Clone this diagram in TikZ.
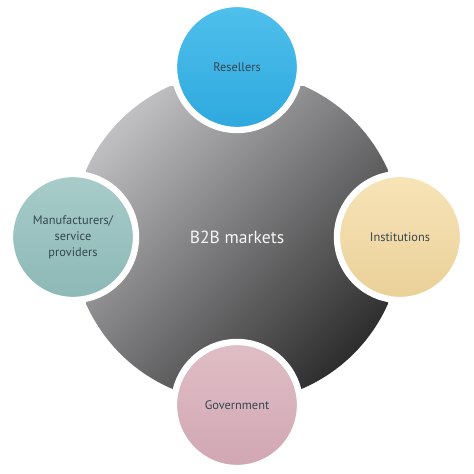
\documentclass[tikz,border=0pt]{standalone}
\usepackage{fontspec}
\setmainfont{PT Sans}
\usepackage{tikz}
\definecolor{graylight}{RGB}{192,192,194}
\definecolor{graydark}{RGB}{45,45,46}
\definecolor{bluetop}{RGB}{80,192,236}
\definecolor{bluebot}{RGB}{45,168,222}
\definecolor{tealtop}{RGB}{168,204,201}
\definecolor{tealbot}{RGB}{140,184,182}
\definecolor{tantop}{RGB}{248,228,184}
\definecolor{tanbot}{RGB}{234,208,152}
\definecolor{pinktop}{RGB}{224,190,198}
\definecolor{pinkbot}{RGB}{208,166,178}
\definecolor{labeltext}{RGB}{55,70,80}
\tikzset{%
    market/.style={%
        circle, draw=white, line width=4.5pt, minimum size=3.15cm,
        inner sep=0pt, align=center, text=labeltext,
        font=\fontsize{8.8}{11.5}\selectfont
    }
}

\begin{document}
\begin{tikzpicture}[x=0.025cm,y=-0.025cm]
    \useasboundingbox (0,0) rectangle (474,474);
    % the gray body
    \begin{scope}
    \clip (86,86) rectangle (388,388);
    \shade[top color=graylight, bottom color=graydark, shading angle=45]
        (237,237) circle (4.125cm);
    \end{scope}
    \node[text=white!92!gray, font=\fontsize{12.5}{15}\selectfont] (b2b) at (237,237) {B2B markets};
    % the four markets
    \node[market, top color=bluetop, bottom color=bluebot] (resellers) at (237,67) {Resellers};
    \node[market, top color=tealtop, bottom color=tealbot] (makers) at (73,237) {Manufacturers/\\service\\providers};
    \node[market, top color=tantop, bottom color=tanbot] (institutions) at (400,237) {Institutions};
    \node[market, top color=pinktop, bottom color=pinkbot] (government) at (237,405) {Government};
\end{tikzpicture}
\end{document}
